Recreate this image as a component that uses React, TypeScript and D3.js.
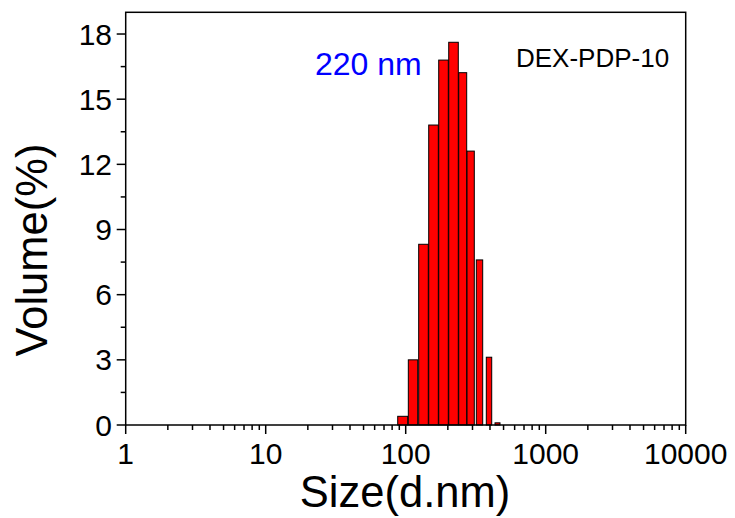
import React from "react";
import * as d3 from "d3";

// bin edges (nm) and volume (%)
const binStart = [87.7, 104.4, 123.8, 146.0, 172.1, 202.9, 239.1, 274.1, 319.4, 376.5, 434.5];
const binEnd = [103.3, 121.8, 145.0, 171.0, 201.5, 237.5, 272.7, 309.0, 354.8, 411.5, 471.7];
const volume = [0.4, 3.0, 8.32, 13.81, 16.8, 17.62, 16.22, 12.61, 7.6, 3.12, 0.1];

const xTicks = [1, 10, 100, 1000, 10000];
const yTicks = [0, 3, 6, 9, 12, 15, 18];
const peakLabel = "220 nm";
const sampleLabel = "DEX-PDP-10";

const W = 735;
const H = 518;
const FONT = "'Liberation Sans', Arial, sans-serif";

export default function App() {
  const x = d3.scaleLog().domain([1, 10000]).range([125.7, 685.7]);
  const y = d3.scaleLinear().domain([0, 19]).range([425, 12.3]);
  const [x0, x1] = x.range();
  const [y0, y1] = y.range();

  const xMinor: number[] = [];
  for (let d = 1; d < 10000; d *= 10) {
    for (let k = 2; k <= 9; k++) xMinor.push(d * k);
  }
  const yMinor = yTicks.slice(0, -1).map((v) => v + 1.5);

  return (
    <svg
      width={W}
      height={H}
      style={{ position: "absolute", left: 0, top: 0, background: "#fff" }}
      fontFamily={FONT}
    >
      <rect x={0} y={0} width={W} height={H} fill="#fff" />
      {/* bars */}
      {volume.map((v, i) => (
        <rect
          key={i}
          x={x(binStart[i])}
          y={y(v)}
          width={x(binEnd[i]) - x(binStart[i])}
          height={y(0) - y(v)}
          fill="#ff0000"
          stroke="#000"
          strokeWidth={1}
        />
      ))}
      {/* frame */}
      <rect
        x={x0}
        y={y1}
        width={x1 - x0}
        height={y0 - y1}
        fill="none"
        stroke="#000"
        strokeWidth={1.5}
      />
      {/* x ticks */}
      {xTicks.map((t) => (
        <g key={"xt" + t}>
          <line x1={x(t)} x2={x(t)} y1={y0} y2={y0 + 9} stroke="#000" strokeWidth={1.5} />
          <text x={x(t)} y={464} textAnchor="middle" fontSize={30} fill="#000">
            {t}
          </text>
        </g>
      ))}
      {xMinor.map((t) => (
        <line key={"xm" + t} x1={x(t)} x2={x(t)} y1={y0} y2={y0 + 5} stroke="#000" strokeWidth={1.5} />
      ))}
      {/* y ticks */}
      {yTicks.map((t) => (
        <g key={"yt" + t}>
          <line x1={x0 - 9} x2={x0} y1={y(t)} y2={y(t)} stroke="#000" strokeWidth={1.5} />
          <text x={112} y={y(t) + 10.5} textAnchor="end" fontSize={30} fill="#000">
            {t}
          </text>
        </g>
      ))}
      {yMinor.map((t) => (
        <line key={"ym" + t} x1={x0 - 5} x2={x0} y1={y(t)} y2={y(t)} stroke="#000" strokeWidth={1.5} />
      ))}
      {/* axis titles */}
      <text x={405} y={507} textAnchor="middle" fontSize={43.5} fill="#000">
        Size(d.nm)
      </text>
      <text
        transform="translate(47,250) rotate(-90)"
        textAnchor="middle"
        fontSize={43.5}
        fill="#000"
      >
        Volume(%)
      </text>
      {/* annotations */}
      <text x={315} y={75} fontSize={32} fill="#0000ff">
        {peakLabel}
      </text>
      <text x={516} y={67} fontSize={26} fill="#000">
        {sampleLabel}
      </text>
    </svg>
  );
}
